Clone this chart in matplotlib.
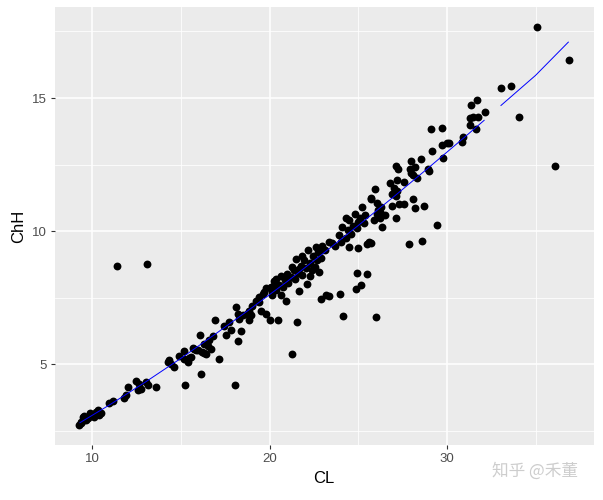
import matplotlib
matplotlib.use("Agg")
import matplotlib.pyplot as plt

# ---- data ----
cl = [9.27, 9.33, 9.36, 9.45, 9.5, 9.65, 9.74, 9.93, 10.11, 10.21, 10.39, 10.3, 9.55, 9.85, 10.5,
      10.96, 11.14, 11.8, 11.9, 11.99, 12.46, 12.55, 12.65, 12.74, 13.03, 13.11, 13.59,
      11.39, 13.06,
      14.24, 14.34, 14.43, 14.62, 14.9, 15.18, 15.18, 15.37, 15.56, 15.75, 15.93, 16.21, 16.41, 16.31,
      15.22, 16.12, 15.46, 15.65, 15.84, 16.31, 16.5, 16.69, 16.59, 16.78, 16.07, 17.15, 18.04,
      16.91, 17.44, 17.72, 17.53, 17.81, 18.19, 18.41, 18.09, 18.19, 18.47, 18.75, 18.85, 18.28,
      19.03, 19.41, 19.5, 19.79, 18.94, 18.85, 19.22, 19.41, 19.6, 19.69, 19.78,
      20.16, 20.63, 20.91, 20.25, 20.35, 20.25, 21.25, 21.66, 21.66, 22.13, 22.56,
      20.0, 20.45, 21.55, 21.28,
      20.05, 20.15, 20.3, 20.38, 20.55, 20.62, 20.75, 20.85, 20.98, 21.05, 21.18, 21.35, 21.42, 21.5,
      21.58, 21.75, 21.82, 21.95, 22.05, 22.18, 22.25, 22.38, 22.45, 22.6, 22.68, 22.75, 22.88, 22.98,
      23.1, 21.85, 23.35,
      22.3, 22.5, 22.95, 22.8,
      23.17, 22.92, 23.35, 23.95, 24.86, 25.14, 24.91, 25.51, 24.14, 25.98,
      23.5, 23.7, 23.9, 24.0, 24.1, 24.3, 24.4, 24.5, 24.6, 24.7, 24.8, 24.9, 25.0, 25.1, 25.2, 25.3,
      25.4, 25.0, 25.5, 25.6, 25.7, 25.74, 26.04, 26.04, 24.3, 24.5,
      25.93, 25.72, 26.1, 26.2, 26.3, 26.9, 27.3, 27.6, 28.1, 28.2, 28.73, 25.9, 26.2, 26.5, 26.36,
      27.11, 29.46, 27.86, 28.59, 26.81, 27.2, 27.56, 26.9, 27.0, 27.1, 27.2, 27.11, 27.26, 27.97,
      28.52, 28.0, 28.1, 28.2, 27.9, 28.3, 28.91, 28.99, 29.1, 29.72, 29.17, 29.7, 30.0, 29.79, 30.11,
      30.85, 30.92, 31.65, 31.3, 31.3, 31.5, 31.73, 32.14, 31.35, 31.71,
      33.04, 33.61, 34.06, 35.07, 36.89, 36.08]
chh = [2.71, 2.78, 2.83, 3.02, 2.9, 2.9, 2.98, 3.08, 3.02, 3.21, 3.08, 3.27, 3.05, 3.15, 3.15,
       3.52, 3.61, 3.71, 3.83, 4.15, 4.36, 4.02, 4.27, 4.08, 4.33, 4.21, 4.15,
       8.7, 8.76,
       5.08, 5.14, 5.02, 4.9, 5.31, 5.21, 5.48, 5.08, 5.27, 5.58, 5.52, 5.46, 5.39, 5.77,
       4.23, 4.64, 5.23, 5.61, 5.52, 5.43, 5.68, 5.58, 5.89, 6.06, 6.1, 5.18, 4.21,
       6.64, 6.45, 6.58, 6.08, 6.27, 5.85, 6.23, 7.14, 6.89, 6.83, 6.89, 6.64, 6.7,
       7.2, 7.33, 7.01, 6.89, 6.83, 7.01, 7.39, 7.52, 7.64, 7.7, 7.85,
       7.58, 7.58, 7.39, 8.14, 8.2, 7.95, 8.64, 8.58, 7.76, 8.01, 8.64,
       6.67, 6.66, 6.6, 5.39,
       7.9, 7.72, 8.05, 7.8, 7.98, 8.3, 7.9, 8.15, 8.4, 8.05, 8.28, 8.55, 8.2, 8.95,
       8.42, 8.7, 8.35, 8.9, 8.6, 9.3, 8.8, 8.55, 9.05, 9.4, 8.9, 9.2, 9.0, 9.45,
       9.3, 9.08, 9.58,
       8.3, 8.6, 9.3, 8.45,
       7.58, 7.45, 7.55, 7.64, 7.83, 7.98, 8.43, 8.39, 6.79, 6.77,
       9.55, 9.45, 9.85, 9.6, 10.15, 9.75, 10.05, 10.4, 9.9, 10.2, 10.65, 10.1, 10.35, 10.5, 10.9, 10.3,
       10.6, 9.35, 9.5, 9.6, 9.55, 11.22, 11.07, 10.64, 10.5, 9.4,
       11.57, 11.25, 10.8, 10.7, 10.9, 10.95, 11.01, 11.01, 11.22, 10.85, 10.95, 10.4, 10.5, 10.6, 10.16,
       10.48, 10.24, 9.5, 9.64, 11.82, 11.92, 11.85, 11.4, 11.6, 11.3, 11.5, 12.45, 12.32, 12.63,
       12.7, 12.2, 12.1, 12.4, 12.35, 12.0, 12.35, 12.26, 13.85, 13.88, 13.01, 13.23, 13.31, 12.73, 13.32,
       13.35, 13.55, 13.85, 13.98, 14.26, 14.3, 14.28, 14.48, 14.73, 14.93,
       15.37, 15.44, 14.3, 17.67, 16.43, 12.46]

fit1_x = [9.3, 11, 13, 15, 17, 19, 21, 23, 25, 27, 29, 31, 32.1]
fit1_y = [2.80, 3.48, 4.33, 5.22, 6.16, 7.12, 8.11, 9.15, 10.21, 11.29, 12.40, 13.53, 14.16]
fit2_x = [33.05, 35, 36.85]
fit2_y = [14.72, 15.85, 17.10]

x_ticks = [10, 20, 30]
y_ticks = [5, 10, 15]

# ---- figure ----
fig = plt.figure(figsize=(6.03, 5.0), dpi=100)
ax = fig.add_axes([55/603, 55/500, (593.5-55)/603, (445-7)/500])
ax.set_facecolor("#EBEBEB")
for s in ax.spines.values():
    s.set_visible(False)

ax.set_xlim(7.89, 38.27)
ax.set_ylim(1.96, 18.42)
ax.set_xticks(x_ticks)
ax.set_yticks(y_ticks)
ax.set_xticks([15, 25, 35], minor=True)
ax.set_yticks([2.5, 7.5, 12.5, 17.5], minor=True)
ax.grid(which="major", color="white", linewidth=1.1)
ax.grid(which="minor", color="white", linewidth=0.55)
ax.set_axisbelow(True)
ax.tick_params(which="major", length=3, width=0.8, color="#333333",
               labelcolor="#4D4D4D", labelsize=9.5, pad=3)
ax.tick_params(which="minor", length=0)
for lab in ax.get_xticklabels() + ax.get_yticklabels():
    lab.set_family(["Liberation Sans", "DejaVu Sans"])

ax.scatter(cl, chh, s=32, color="black", linewidths=0, zorder=3)
ax.plot(fit1_x, fit1_y, color="#0000FF", linewidth=0.7, zorder=4)
ax.plot(fit2_x, fit2_y, color="#0000FF", linewidth=0.7, zorder=4)

ax.set_xlabel("CL", fontsize=12, family=["Liberation Sans", "DejaVu Sans"], labelpad=4)
ax.set_ylabel("ChH", fontsize=12, family=["Liberation Sans", "DejaVu Sans"], labelpad=4)

fig.text(0.888, 0.058, "知乎 @禾董", ha="center", va="center", fontsize=12,
         color="#CDCDCD", family=["Noto Sans CJK SC", "DejaVu Sans"])

fig.savefig("out.png", dpi=100)
